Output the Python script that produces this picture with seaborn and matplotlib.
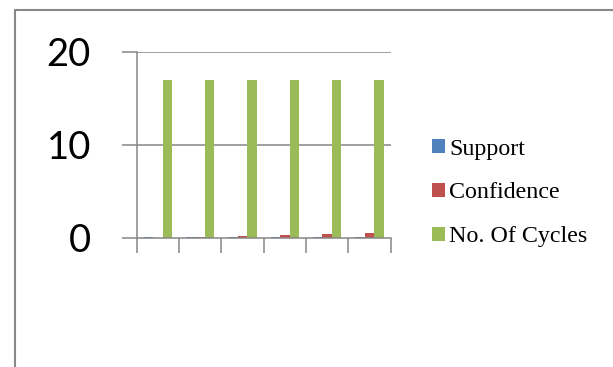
import matplotlib
matplotlib.use("Agg")
import matplotlib.pyplot as plt
from matplotlib.lines import Line2D
from matplotlib.patches import Patch
from matplotlib.ticker import FixedLocator, NullFormatter
import seaborn as sns
import pandas as pd

# Data
runs = ["1", "2", "3", "4", "5", "6"]
support = [0.05, 0.05, 0.05, 0.05, 0.05, 0.05]
confidence = [0.02, 0.06, 0.18, 0.29, 0.38, 0.48]
cycles = [17, 17, 17, 17, 17, 17]
series_names = ["Support", "Confidence", "No. Of Cycles"]
series_colors = ["#4F81BD", "#C0504D", "#9BBB59"]
y_ticks = [0, 10, 20]

df = pd.DataFrame({
    "run": runs * 3,
    "value": support + confidence + cycles,
    "series": [series_names[0]] * 6 + [series_names[1]] * 6 + [series_names[2]] * 6,
})

sns.set_theme(style="white", rc={"text.color": "black", "ytick.color": "black",
                                 "xtick.color": "black"})
W, H, DPI = 613, 367, 100
fig = plt.figure(figsize=(W / DPI, H / DPI), dpi=DPI)
ax = fig.add_axes([136.7 / W, 1 - 237.7 / H, (390.6 - 136.7) / W, (237.7 - 52.0) / H])

sns.barplot(data=df, x="run", y="value", hue="series", order=runs,
            hue_order=series_names, palette=series_colors, width=0.667,
            gap=0, saturation=1, edgecolor="none", legend=False, ax=ax)

grey = "#868686"
ax.set_xlim(-0.5, len(runs) - 0.5)
ax.set_ylim(0, 20)
ax.set_xlabel("")
ax.set_ylabel("")

# category separators as outward ticks
ax.xaxis.set_major_locator(FixedLocator([i - 0.5 for i in range(len(runs) + 1)]))
ax.xaxis.set_major_formatter(NullFormatter())
ax.tick_params(axis="x", which="major", direction="out", length=11, width=1.1,
               color=grey, bottom=True)

ax.set_yticks(y_ticks)
ax.set_yticklabels([str(v) for v in y_ticks], fontsize=27.5, family="Lato",
                   color="black")
ax.tick_params(axis="y", direction="out", length=11, width=1.1, color=grey,
               left=True, pad=22)

for v in y_ticks[1:]:
    ax.axhline(v, color=grey, lw=1.1, zorder=0.5)

for side in ["top", "right"]:
    ax.spines[side].set_visible(False)
for side in ["left", "bottom"]:
    ax.spines[side].set_color(grey)
    ax.spines[side].set_linewidth(1.1)

handles = [Patch(facecolor=c, edgecolor="none") for c in series_colors]
fig.legend(handles, series_names, loc="center left",
           bbox_to_anchor=(432.5 / W, 1 - 193 / H), frameon=False,
           prop={"family": "Liberation Serif", "size": 17.3},
           labelcolor="black",
           handlelength=0.52, handleheight=0.52, handletextpad=0.17,
           labelspacing=0.95, borderpad=0, borderaxespad=0)

# chart frame
frame_kw = dict(color="#898989", lw=1.5, transform=fig.transFigure)
fig.add_artist(Line2D([14.5 / W, 14.5 / W], [1 - 9.5 / H, 0], **frame_kw))
fig.add_artist(Line2D([14.5 / W, 1], [1 - 9.5 / H, 1 - 9.5 / H], **frame_kw))

fig.savefig("out.png", dpi=DPI, facecolor="white")
